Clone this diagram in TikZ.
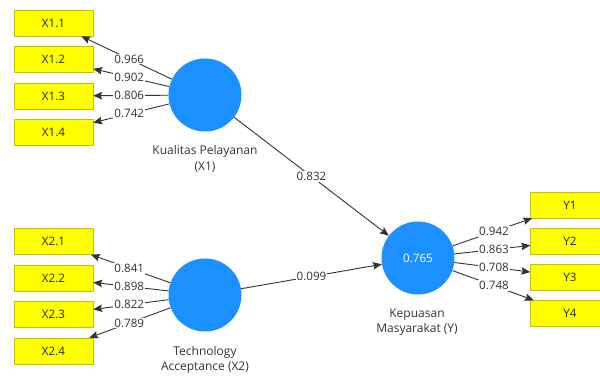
\documentclass[tikz,border=0pt]{standalone}
\usepackage{fontspec}
\setmainfont{Open Sans}
\usetikzlibrary{arrows.meta, calc}
\definecolor{lvblue}{HTML}{1B90FF}
\definecolor{mvyellow}{HTML}{FFFF00}
\definecolor{mvedge}{HTML}{C2C200}
\definecolor{pathgray}{HTML}{333333}

\begin{document}
\begin{tikzpicture}[x=1pt,y=-1pt,
		font=\fontsize{11.6}{13}\selectfont,
		latent/.style={circle,fill=lvblue,minimum size=73pt,inner sep=0pt},
		indicator/.style={rectangle,draw=mvedge,fill=mvyellow,minimum width=79pt,minimum height=26pt,inner sep=0pt,text=black!85},
		arr/.style={draw=pathgray,line width=0.9pt,-{Stealth[length=9pt,width=7.5pt,inset=1.5pt]}},
		weight/.style={fill=white,inner sep=1pt,text=black!80},
		caption/.style={align=center,text=black!80,font=\fontsize{12}{15.5}\selectfont}]
		
		\useasboundingbox (0,0) rectangle (600,376);
		
		% latent variables
		\node[latent] (X1) at (205,95) {};
		\node[latent] (X2) at (205,295) {};
		\node[latent,text=white] (Y) at (418,258) {0.765};
		
		\node[caption] (capX1) at (205,159) {Kualitas Pelayanan\\(X1)};
		\node[caption] (capX2) at (205,360) {Technology\\Acceptance (X2)};
		\node[caption] (capY) at (417,322) {Kepuasan\\Masyarakat (Y)};
		
		% indicators
		\node[indicator] (X11) at (53.5,23) {X1.1};
		\node[indicator] (X12) at (53.5,59.5) {X1.2};
		\node[indicator] (X13) at (53.5,96) {X1.3};
		\node[indicator] (X14) at (53.5,132.5) {X1.4};
		
		\node[indicator] (X21) at (53.5,241.5) {X2.1};
		\node[indicator] (X22) at (53.5,278) {X2.2};
		\node[indicator] (X23) at (53.5,314.5) {X2.3};
		\node[indicator] (X24) at (53.5,351) {X2.4};
		
		\node[indicator] (Y1) at (570,205) {Y1};
		\node[indicator] (Y2) at (570,241) {Y2};
		\node[indicator] (Y3) at (570,277) {Y3};
		\node[indicator] (Y4) at (570,313.5) {Y4};
		
		% outer loadings
		\foreach \lv/\mv/\val in {X1/X11/0.966, X1/X12/0.902, X1/X13/0.806, X1/X14/0.742,
			X2/X21/0.841, X2/X22/0.898, X2/X23/0.822, X2/X24/0.789,
			Y/Y1/0.942, Y/Y2/0.863, Y/Y3/0.708, Y/Y4/0.748}
		{
			\draw[arr] (\lv) -- (\mv);
			\node[weight] at ($(\lv)!0.5!(\mv)$) {\val};
		}
		
		% path coefficients
		\draw[arr] (X1) -- (Y);
		\node[weight] (pX1) at ($(X1)!0.5!(Y)$) {0.832};
		\draw[arr] (X2) -- (Y);
		\node[weight] (pX2) at ($(X2)!0.5!(Y)$) {0.099};
		
	\end{tikzpicture}
\end{document}
